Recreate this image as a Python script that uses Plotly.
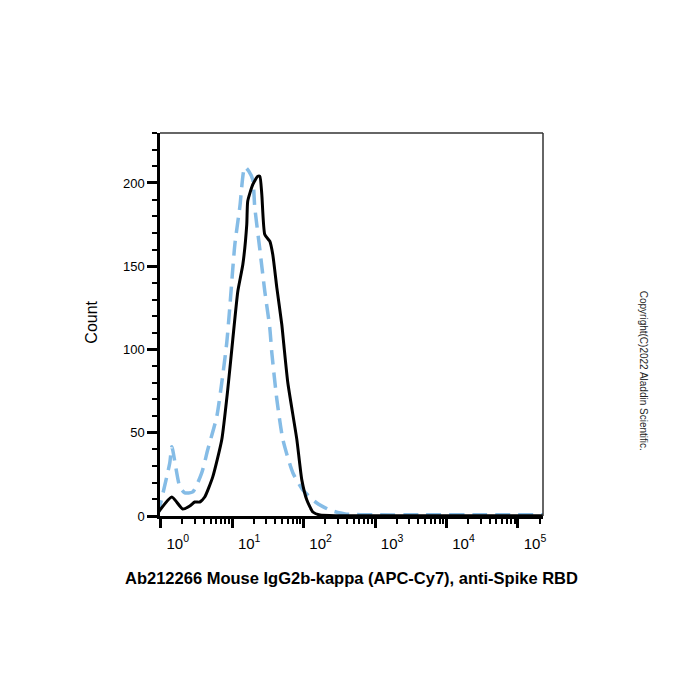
import plotly.graph_objects as go

# Black (stained) histogram
black_x = [0.91, 1.43, 2.03, 2.55, 2.99, 3.52, 4.13, 5.35, 7.15, 8.67, 10.2, 12.0, 14.1, 16.0, 16.5,
           19.4, 22.8, 24.4, 26.0, 28.6, 33.6, 37.0, 42.2, 49.5, 52.8, 60.1, 80.3, 94.3, 110.9, 134.6,
           168.6, 300, 1000, 5000, 30000, 224000]
black_y = [1.8, 11.4, 4.2, 6.0, 8.4, 8.4, 11.4, 23.5, 45.8, 75.9, 106, 135, 151, 175, 189,
           199, 204, 204, 193, 169, 165, 157, 137, 115, 103, 80, 46, 21.7, 9.6, 2.4,
           0.6, 0.2, 0.2, 0.2, 0.2, 0.2]

# Blue dashed (isotype control) histogram
blue_x = [0.91, 1.34, 1.43, 1.85, 2.17, 2.81, 3.75, 4.55, 6.08, 7.15, 8.40, 9.25, 10.9, 12.8, 15.0,
          17.1, 19.4, 20.7, 24.4, 28.6, 33.6, 35.9, 42.2, 51.2, 70.6, 97.4, 153, 233, 378,
          1000, 5000, 30000, 224000]
blue_y = [0.6, 32, 41.6, 17.5, 13.9, 14.5, 25.9, 39.8, 59.6, 80, 104, 125, 163, 185.5, 209.6,
          207, 202, 185.5, 160, 135, 113, 98, 70, 46, 26, 15.7, 7.8, 3.6, 1.2,
          0.7, 0.7, 0.7, 0.7]

x_decades = [1, 10, 100, 1000, 10000, 100000]
x_exponents = ["0", "1", "2", "3", "4", "5"]
x_ticktext = ["10<sup>%s</sup>" % e for e in x_exponents]
x_minor = [m * d for d in x_decades for m in range(2, 10) if m * d < 224000]
y_ticks = [0, 50, 100, 150, 200]

FONT = "Liberation Sans, Arial, sans-serif"

fig = go.Figure()
fig.add_trace(go.Scatter(x=blue_x, y=blue_y, mode="lines",
                         line=dict(color="#85bce6", width=3.5, dash="15px,8px", shape="spline", smoothing=0.6),
                         hoverinfo="skip", showlegend=False))
fig.add_trace(go.Scatter(x=black_x, y=black_y, mode="lines",
                         line=dict(color="black", width=3, shape="spline", smoothing=0.5),
                         hoverinfo="skip", showlegend=False))

fig.update_layout(
    width=700, height=700,
    margin=dict(l=160, r=157, t=133, b=184),
    paper_bgcolor="white", plot_bgcolor="white",
    font=dict(family=FONT, color="black"),
    xaxis=dict(type="log", range=[-0.01, 5.35], showgrid=False, zeroline=False,
               showline=True, linecolor="black", linewidth=2.5,
               tickmode="array", tickvals=x_decades, ticktext=x_ticktext,
               ticks="outside", ticklen=9, tickwidth=3, tickcolor="black",
               ticklabelshift=17, ticklabelstandoff=3, tickfont=dict(size=15, family=FONT),
               minor=dict(tickmode="array", tickvals=x_minor, ticks="outside",
                          ticklen=5, tickwidth=2, tickcolor="black", showgrid=False)),
    yaxis=dict(range=[0, 230], showgrid=False, zeroline=False,
               showline=True, linecolor="black", linewidth=2.5,
               tickmode="array", tickvals=y_ticks,
               ticks="outside", ticklen=10, tickwidth=3, tickcolor="black",
               tickfont=dict(size=13, family=FONT),
               minor=dict(dtick=10, tick0=0, ticks="outside", ticklen=5, tickwidth=2,
                          tickcolor="black", showgrid=False)),
    shapes=[
        dict(type="line", xref="paper", yref="paper", x0=0, x1=1, y0=1, y1=1,
             line=dict(color="#333333", width=1.5)),
        dict(type="line", xref="paper", yref="paper", x0=1, x1=1, y0=0, y1=1,
             line=dict(color="#333333", width=1.5)),
    ],
    annotations=[
        dict(text="<b>Ab212266 Mouse IgG2b-kappa (APC-Cy7), anti-Spike RBD</b>",
             xref="paper", yref="paper", x=0.5, y=-0.163, xanchor="center", yanchor="middle",
             showarrow=False, font=dict(size=16.5, family=FONT, color="black")),
        dict(text="Count", xref="paper", yref="paper", x=-0.178, y=0.507,
             xanchor="center", yanchor="middle", textangle=-90,
             showarrow=False, font=dict(size=16, family=FONT, color="black")),
        dict(text="Copyright(C)2022 Aladdin Scientific.", xref="paper", yref="paper",
             x=1.263, y=0.38, xanchor="center", yanchor="middle", textangle=90,
             showarrow=False, font=dict(size=10, family=FONT, color="#222222")),
    ],
)

fig.write_html("out.html")
